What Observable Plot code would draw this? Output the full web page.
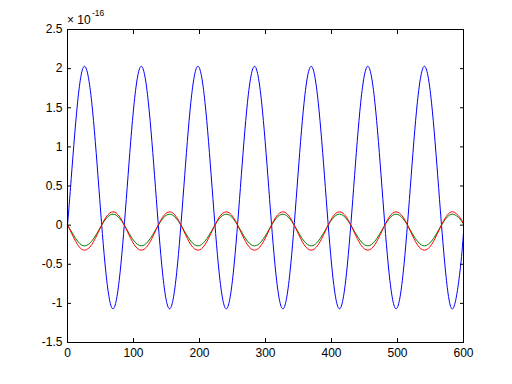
<!DOCTYPE html>
<html><head><meta charset="utf-8">
<script src="https://cdn.jsdelivr.net/npm/d3@7"></script>
<script src="https://cdn.jsdelivr.net/npm/@observablehq/plot@0.6"></script>
<style>
html,body{margin:0;padding:0;background:#fff}
#chart svg{display:block}
</style>
</head><body><div id="chart"></div>
<script>
// sample positions (x)
const xs = [0, 4.6, 15.3, 26.0, 36.7, 47.5, 58.2, 68.9, 79.6, 90.4, 101.1, 111.8, 122.5, 133.3, 144.0, 154.7, 165.4, 176.2, 186.9, 197.6, 208.3, 219.1, 229.8, 240.5, 251.2, 262.0, 272.7, 283.4, 294.1, 304.9, 315.6, 326.3, 337.0, 347.8, 358.5, 369.2, 379.9, 390.7, 401.4, 412.1, 422.8, 433.6, 444.3, 455.0, 465.7, 476.5, 487.2, 497.9, 508.6, 519.4, 530.1, 540.8, 551.5, 562.3, 573.0, 583.7, 594.4, 600];
// values in units of 1e-16
const blue = [0, 0.48, 1.57,
  2.03, 1.57, 0.48, -0.61, -1.07, -0.61, 0.48, 1.57,
  2.03, 1.57, 0.48, -0.61, -1.07, -0.61, 0.48, 1.57,
  2.03, 1.57, 0.48, -0.61, -1.07, -0.61, 0.48, 1.57,
  2.03, 1.57, 0.48, -0.61, -1.07, -0.61, 0.48, 1.57,
  2.03, 1.57, 0.48, -0.61, -1.07, -0.61, 0.48, 1.57,
  2.03, 1.57, 0.48, -0.61, -1.07, -0.61, 0.48, 1.57,
  2.03, 1.57, 0.48, -0.61, -1.07, -0.61,
  -0.1];
const green = [0, -0.063, -0.205,
  -0.265, -0.205, -0.063, 0.08, 0.14, 0.08, -0.063, -0.205,
  -0.265, -0.205, -0.063, 0.08, 0.14, 0.08, -0.063, -0.205,
  -0.265, -0.205, -0.063, 0.08, 0.14, 0.08, -0.063, -0.205,
  -0.265, -0.205, -0.063, 0.08, 0.14, 0.08, -0.063, -0.205,
  -0.265, -0.205, -0.063, 0.08, 0.14, 0.08, -0.063, -0.205,
  -0.265, -0.205, -0.063, 0.08, 0.14, 0.08, -0.063, -0.205,
  -0.265, -0.205, -0.063, 0.08, 0.14, 0.08,
  0.01];
const red = [0, -0.075, -0.25,
  -0.32, -0.25, -0.075, 0.10, 0.17, 0.10, -0.075, -0.25,
  -0.32, -0.25, -0.075, 0.10, 0.17, 0.10, -0.075, -0.25,
  -0.32, -0.25, -0.075, 0.10, 0.17, 0.10, -0.075, -0.25,
  -0.32, -0.25, -0.075, 0.10, 0.17, 0.10, -0.075, -0.25,
  -0.32, -0.25, -0.075, 0.10, 0.17, 0.10, -0.075, -0.25,
  -0.32, -0.25, -0.075, 0.10, 0.17, 0.10, -0.075, -0.25,
  -0.32, -0.25, -0.075, 0.10, 0.17, 0.10,
  0.02];
const seriesNames = ["blue", "green", "red"];
const seriesColors = ["#0000ff", "#008000", "#ff0000"];
const xTicks = [0, 100, 200, 300, 400, 500, 600];
const yTicks = [-1.5, -1, -0.5, 0, 0.5, 1, 1.5, 2, 2.5];
const yTickLabels = ["-1.5", "-1", "-0.5", "0", "0.5", "1", "1.5", "2", "2.5"];
const exponentBase = "\u00d7 10";
const exponentPower = "-16";

const seriesValues = [blue, green, red];
const lines = seriesNames.map((name, i) =>
  Plot.line(xs.map((x, j) => ({x, y: seriesValues[i][j]})), {
    x: "x", y: "y", stroke: seriesColors[i], strokeWidth: 1, curve: "natural"
  })
);

const font = "'Liberation Sans', Arial, Helvetica, sans-serif";
const chart = Plot.plot({
  width: 512, height: 384,
  marginLeft: 67, marginRight: 49, marginTop: 29, marginBottom: 42,
  style: {fontFamily: font, fontSize: "12px", background: "#fff", color: "#000"},
  x: {domain: [0, 600]},
  y: {domain: [-1.5, 2.5]},
  marks: [
    ...lines,
    Plot.frame({stroke: "#000", strokeWidth: 1}),
    Plot.axisX(xTicks, {anchor: "bottom", tickSize: 0, tickPadding: 6, label: null, fontSize: 12}),
    Plot.axisX(xTicks, {anchor: "bottom", tickSize: -4, text: null, label: null}),
    Plot.axisX(xTicks, {anchor: "top", tickSize: -4, text: null, label: null}),
    Plot.axisY(yTicks, {anchor: "left", tickSize: 0, tickPadding: 5, label: null, fontSize: 12,
      tickFormat: (d) => yTickLabels[yTicks.indexOf(d)]}),
    Plot.axisY(yTicks, {anchor: "left", tickSize: -4, text: null, label: null}),
    Plot.axisY(yTicks, {anchor: "right", tickSize: -4, text: null, label: null})
  ]
});
const svg = d3.select(chart);
svg.append("text").attr("x", 67).attr("y", 24).attr("text-anchor", "start")
  .style("font-size", "12px").style("font-family", font)
  .attr("fill", "#000").text(exponentBase);
svg.append("text").attr("x", 92).attr("y", 16).attr("text-anchor", "start")
  .style("font-size", "8.5px").style("font-family", font)
  .attr("fill", "#000").text(exponentPower);
document.getElementById("chart").appendChild(chart);
</script>
</body></html>
